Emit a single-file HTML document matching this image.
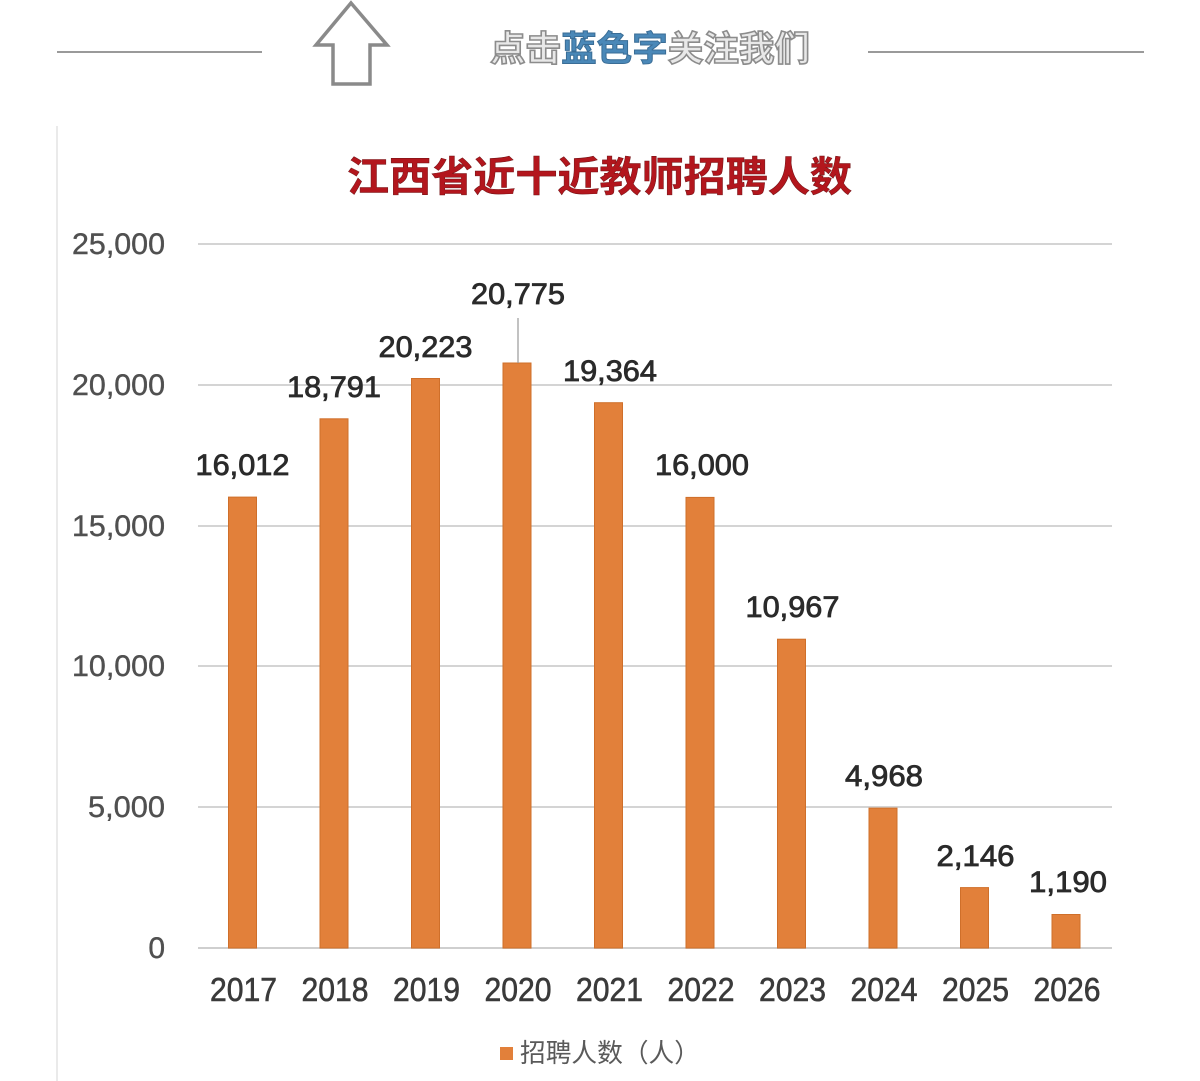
<!DOCTYPE html>
<html><head><meta charset="utf-8"><style>
html,body{margin:0;padding:0;background:#fff;}
svg{display:block;}
</style></head><body>
<svg width="1200" height="1081" viewBox="0 0 1200 1081" xmlns="http://www.w3.org/2000/svg">
<rect x="0" y="0" width="1200" height="1081" fill="#fff"/>
<!-- header -->
<line x1="57" y1="52" x2="262" y2="52" stroke="#9a9a9a" stroke-width="2"/>
<line x1="868" y1="52" x2="1144" y2="52" stroke="#9a9a9a" stroke-width="2"/>
<polygon points="351,3 387,45 370,45 370,84 333,84 333,45 316,45" fill="#fff" stroke="#8a8a8a" stroke-width="3.5" stroke-linejoin="miter"/>
<text x="490" y="61" font-family="'Noto Sans CJK SC','WenQuanYi Zen Hei',sans-serif" font-size="35" font-weight="bold" textLength="320" lengthAdjust="spacingAndGlyphs"><tspan fill="#e8e8e8" stroke="#8c8c8c" stroke-width="1.6">点击</tspan><tspan fill="#4a88b8" stroke="#3a6d96" stroke-width="1">蓝色字</tspan><tspan fill="#e8e8e8" stroke="#8c8c8c" stroke-width="1.6">关注我们</tspan></text>
<!-- left border -->
<line x1="57" y1="126" x2="57" y2="1081" stroke="#e4e4e4" stroke-width="1.5"/>
<!-- title -->
<text x="347" y="191" font-family="'Noto Sans CJK SC','WenQuanYi Zen Hei',sans-serif" font-size="41" font-weight="bold" fill="#b3161d" stroke="#6e1114" stroke-width="0.5" textLength="505" lengthAdjust="spacingAndGlyphs">江西省近十近教师招聘人数</text>
<!-- gridlines -->
<g stroke="#d4d4d4" stroke-width="2">
<line x1="198" y1="244" x2="1112" y2="244"/>
<line x1="198" y1="385" x2="1112" y2="385"/>
<line x1="198" y1="526" x2="1112" y2="526"/>
<line x1="198" y1="666" x2="1112" y2="666"/>
<line x1="198" y1="807" x2="1112" y2="807"/>
<line x1="198" y1="948" x2="1112" y2="948" stroke="#cfcfcf"/>
</g>
<!-- y labels -->
<g font-family="'Liberation Sans',sans-serif" font-size="30" fill="#505050" stroke="#505050" stroke-width="0.4" text-anchor="end">
<text x="165" y="254" textLength="93" lengthAdjust="spacingAndGlyphs">25,000</text>
<text x="165" y="395" textLength="93" lengthAdjust="spacingAndGlyphs">20,000</text>
<text x="165" y="536" textLength="93" lengthAdjust="spacingAndGlyphs">15,000</text>
<text x="165" y="676" textLength="93" lengthAdjust="spacingAndGlyphs">10,000</text>
<text x="165" y="817" textLength="77" lengthAdjust="spacingAndGlyphs">5,000</text>
<text x="165" y="958">0</text>
</g>
<!-- bars -->
<g fill="#e2803a" stroke="#cf6f2a" stroke-width="1">
<rect x="228.5" y="497.1" width="28" height="450.9"/>
<rect x="320" y="418.8" width="28" height="529.2"/>
<rect x="411.5" y="378.5" width="28" height="569.5"/>
<rect x="503" y="363" width="28" height="585"/>
<rect x="594.5" y="402.7" width="28" height="545.3"/>
<rect x="686" y="497.4" width="28" height="450.6"/>
<rect x="777.5" y="639.2" width="28" height="308.8"/>
<rect x="869" y="808.1" width="28" height="139.9"/>
<rect x="960.5" y="887.6" width="28" height="60.4"/>
<rect x="1052" y="914.5" width="28" height="33.5"/>
</g>
<!-- leader line -->
<line x1="518" y1="318" x2="518" y2="363" stroke="#999" stroke-width="1.2"/>
<!-- data labels -->
<g font-family="'Liberation Sans',sans-serif" font-size="30" fill="#2a2a2a" stroke="#2a2a2a" stroke-width="0.8" text-anchor="middle">
<text x="242.5" y="475" textLength="94" lengthAdjust="spacingAndGlyphs">16,012</text>
<text x="334" y="397" textLength="94" lengthAdjust="spacingAndGlyphs">18,791</text>
<text x="425.5" y="357" textLength="94" lengthAdjust="spacingAndGlyphs">20,223</text>
<text x="518" y="304" textLength="94" lengthAdjust="spacingAndGlyphs">20,775</text>
<text x="610" y="381" textLength="94" lengthAdjust="spacingAndGlyphs">19,364</text>
<text x="702" y="475" textLength="94" lengthAdjust="spacingAndGlyphs">16,000</text>
<text x="792.5" y="617" textLength="94" lengthAdjust="spacingAndGlyphs">10,967</text>
<text x="884" y="786" textLength="78" lengthAdjust="spacingAndGlyphs">4,968</text>
<text x="975.5" y="866" textLength="78" lengthAdjust="spacingAndGlyphs">2,146</text>
<text x="1068" y="892" textLength="78" lengthAdjust="spacingAndGlyphs">1,190</text>
</g>
<!-- x labels -->
<g font-family="'Liberation Sans',sans-serif" font-size="33" fill="#3a3a3a" stroke="#3a3a3a" stroke-width="0.6" text-anchor="middle">
<text x="243.5" y="1001" textLength="67" lengthAdjust="spacingAndGlyphs">2017</text>
<text x="335" y="1001" textLength="67" lengthAdjust="spacingAndGlyphs">2018</text>
<text x="426.5" y="1001" textLength="67" lengthAdjust="spacingAndGlyphs">2019</text>
<text x="518" y="1001" textLength="67" lengthAdjust="spacingAndGlyphs">2020</text>
<text x="609.5" y="1001" textLength="67" lengthAdjust="spacingAndGlyphs">2021</text>
<text x="701" y="1001" textLength="67" lengthAdjust="spacingAndGlyphs">2022</text>
<text x="792.5" y="1001" textLength="67" lengthAdjust="spacingAndGlyphs">2023</text>
<text x="884" y="1001" textLength="67" lengthAdjust="spacingAndGlyphs">2024</text>
<text x="975.5" y="1001" textLength="67" lengthAdjust="spacingAndGlyphs">2025</text>
<text x="1067" y="1001" textLength="67" lengthAdjust="spacingAndGlyphs">2026</text>
</g>
<!-- legend -->
<rect x="500" y="1047" width="13" height="13" fill="#e2803a"/>
<text x="520" y="1062" font-family="'Liberation Sans','Noto Sans CJK SC',sans-serif" font-size="26" fill="#5a5a5a" textLength="180" lengthAdjust="spacingAndGlyphs">招聘人数（人）</text>
</svg>
</body></html>
